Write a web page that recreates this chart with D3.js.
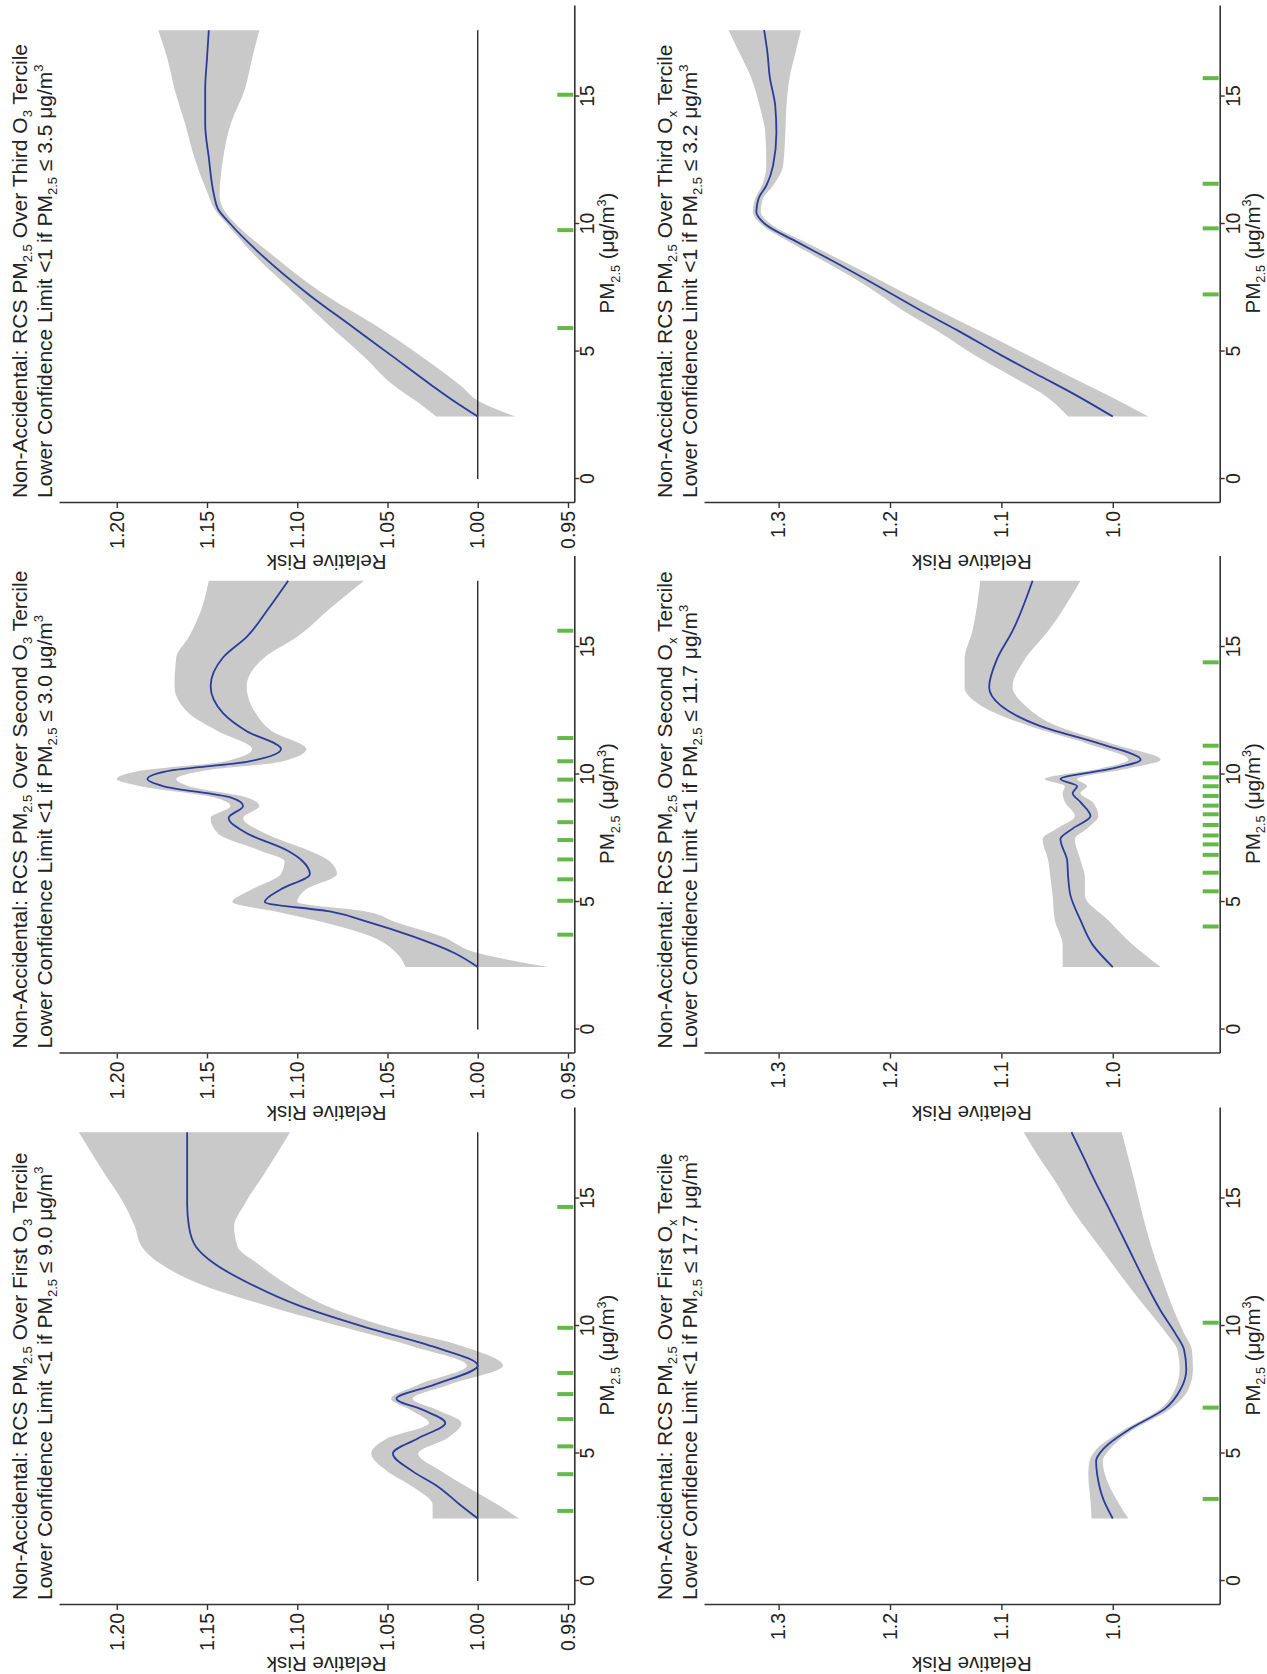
<!DOCTYPE html>
<html><head><meta charset="utf-8">
<script src="https://cdn.jsdelivr.net/npm/d3@7"></script>
<style>
body{margin:0;background:#fff}
svg{display:block}
text{font-family:"Liberation Sans",Arial,Helvetica,sans-serif;fill:#222;white-space:pre}
</style>
</head><body>
<svg id="chart" width="1267" height="1674"></svg>
<script>
// ---------------- DATA ----------------
const xTickValues = [0, 5, 10, 15];
const rrTicksO3 = [0.95, 1.00, 1.05, 1.10, 1.15, 1.20];
const rrTicksOx = [1.0, 1.1, 1.2, 1.3];
const rrDomainO3 = [0.9465, 1.232];
const rrDomainOx = [0.904, 1.367];
const pmDomain = [-0.94, 18.55];
const tercileNames = ["First", "Second", "Third"];
const o3Limits = ["9.0", "3.0", "3.5"];
const oxLimits = ["17.7", "11.7", "3.2"];

// O3 first tercile
const o3FirstPM = [2.45, 3.0, 3.7, 4.3, 5.0, 5.6, 6.2, 6.7, 7.15, 7.7, 8.45, 9.2, 9.95, 10.8, 11.65, 12.45, 13.1, 13.9, 14.8, 16.0, 17.6];
const o3FirstRR = [1.000, 1.010, 1.022, 1.036, 1.047, 1.033, 1.018, 1.030, 1.045, 1.024, 1.000, 1.025, 1.062, 1.099, 1.126, 1.146, 1.156, 1.160, 1.161, 1.161, 1.161];
const o3FirstHi = [1.025, 1.025, 1.036, 1.050, 1.059, 1.050, 1.027, 1.037, 1.048, 1.033, 1.006, 1.036, 1.074, 1.117, 1.154, 1.176, 1.186, 1.190, 1.196, 1.207, 1.221];
const o3FirstLo = [0.977, 0.989, 1.006, 1.020, 1.033, 1.017, 1.009, 1.022, 1.036, 1.016, 0.986, 1.008, 1.049, 1.084, 1.106, 1.122, 1.133, 1.135, 1.129, 1.118, 1.104];
const o3FirstKnots = [2.75, 4.19, 5.28, 6.35, 7.33, 8.16, 9.93, 14.67];

// O3 second tercile
const o3SecondPM = [2.45, 3.0, 3.65, 4.2, 4.63, 5.0, 5.5, 6.1, 6.6, 7.0, 7.7, 8.3, 8.77, 9.1, 9.54, 9.82, 10.17, 10.5, 11.0, 11.7, 12.4, 13.46, 14.6, 15.4, 16.5, 17.6];
const o3SecondRR = [1.000, 1.013, 1.036, 1.060, 1.082, 1.118, 1.109, 1.093, 1.097, 1.105, 1.128, 1.138, 1.130, 1.137, 1.174, 1.183, 1.169, 1.128, 1.109, 1.128, 1.141, 1.148, 1.141, 1.128, 1.116, 1.105];
const o3SecondHi = [1.040, 1.045, 1.059, 1.085, 1.112, 1.136, 1.125, 1.109, 1.107, 1.120, 1.144, 1.148, 1.137, 1.146, 1.187, 1.200, 1.185, 1.141, 1.125, 1.144, 1.160, 1.168, 1.167, 1.160, 1.153, 1.149];
const o3SecondLo = [0.961, 1.000, 1.020, 1.045, 1.062, 1.100, 1.095, 1.078, 1.082, 1.093, 1.118, 1.130, 1.121, 1.128, 1.160, 1.167, 1.150, 1.109, 1.095, 1.114, 1.123, 1.128, 1.118, 1.100, 1.082, 1.063];
const o3SecondKnots = [3.72, 5.05, 5.89, 6.67, 7.43, 8.13, 8.98, 9.8, 10.52, 11.43, 15.64];

// O3 third tercile
const o3ThirdPM = [2.45, 3.0, 3.7, 4.8, 6.0, 7.2, 8.8, 10.0, 10.6, 11.1, 12.6, 13.9, 15.3, 16.5, 17.6];
const o3ThirdRR = [1.000, 1.012, 1.026, 1.047, 1.070, 1.093, 1.120, 1.137, 1.144, 1.146, 1.149, 1.151, 1.151, 1.150, 1.149];
const o3ThirdHi = [1.023, 1.033, 1.047, 1.063, 1.082, 1.100, 1.124, 1.139, 1.146, 1.149, 1.157, 1.162, 1.168, 1.172, 1.177];
const o3ThirdLo = [0.979, 0.998, 1.010, 1.031, 1.056, 1.084, 1.114, 1.134, 1.141, 1.143, 1.141, 1.137, 1.129, 1.125, 1.121];
const o3ThirdKnots = [5.92, 9.76, 15.07];

// Ox first tercile
const oxFirstPM = [2.45, 3.15, 4.18, 4.7, 5.2, 5.98, 6.76, 7.53, 8.3, 9.07, 9.72, 10.6, 11.65, 13.06, 14.48, 15.77, 16.6, 17.6];
const oxFirstRR = [1.000, 1.008, 1.014, 1.015, 1.008, 0.984, 0.953, 0.939, 0.934, 0.936, 0.944, 0.957, 0.970, 0.986, 1.002, 1.017, 1.026, 1.037];
const oxFirstHi = [1.019, 1.020, 1.022, 1.021, 1.014, 0.988, 0.957, 0.944, 0.940, 0.942, 0.952, 0.968, 0.987, 1.011, 1.035, 1.053, 1.066, 1.080];
const oxFirstLo = [0.986, 0.996, 1.007, 1.009, 1.002, 0.980, 0.948, 0.932, 0.928, 0.929, 0.936, 0.945, 0.954, 0.965, 0.974, 0.981, 0.986, 0.992];
const oxFirstKnots = [3.22, 6.8, 10.13];

// Ox second tercile
const oxSecondPM = [2.45, 3.32, 4.29, 5.26, 5.95, 6.64, 7.47, 7.88, 8.37, 8.92, 9.27, 9.54, 9.82, 10.24, 10.58, 11.2, 11.9, 12.72, 13.42, 14.52, 15.63, 17.6];
const oxSecondRR = [1.000, 1.018, 1.029, 1.038, 1.040, 1.041, 1.047, 1.036, 1.020, 1.029, 1.036, 1.032, 1.047, 1.000, 0.975, 1.011, 1.065, 1.101, 1.111, 1.104, 1.090, 1.072];
const oxSecondHi = [1.045, 1.045, 1.052, 1.054, 1.056, 1.058, 1.063, 1.050, 1.034, 1.043, 1.045, 1.043, 1.061, 1.011, 0.986, 1.022, 1.075, 1.119, 1.133, 1.133, 1.126, 1.119];
const oxSecondLo = [0.957, 0.982, 1.004, 1.025, 1.025, 1.029, 1.034, 1.023, 1.013, 1.018, 1.029, 1.023, 1.032, 0.986, 0.957, 1.000, 1.050, 1.079, 1.090, 1.079, 1.058, 1.029];
const oxSecondKnots = [4.04, 5.42, 6.15, 6.85, 7.26, 7.61, 8.02, 8.44, 8.78, 9.16, 9.54, 9.89, 10.44, 11.13, 14.4];

// Ox third tercile
const oxThirdPM = [2.45, 3.36, 4.01, 4.85, 5.82, 6.6, 7.57, 8.54, 9.31, 9.96, 10.48, 11.0, 11.51, 12.29, 13.58, 14.62, 15.78, 16.7, 17.6];
const oxThirdRR = [1.000, 1.036, 1.064, 1.100, 1.139, 1.172, 1.211, 1.251, 1.284, 1.311, 1.320, 1.318, 1.311, 1.305, 1.302, 1.303, 1.308, 1.310, 1.313];
const oxThirdHi = [1.040, 1.064, 1.090, 1.124, 1.158, 1.188, 1.221, 1.259, 1.291, 1.315, 1.323, 1.321, 1.315, 1.311, 1.312, 1.317, 1.325, 1.335, 1.345];
const oxThirdLo = [0.968, 1.008, 1.038, 1.076, 1.120, 1.156, 1.199, 1.242, 1.277, 1.306, 1.316, 1.314, 1.305, 1.296, 1.294, 1.293, 1.290, 1.285, 1.280];
const oxThirdKnots = [7.24, 9.83, 11.58, 15.72];

// ---------------- PANELS ----------------
const panels = [
  {row:0,col:0,pol:"3",lim:o3Limits[0],pm:o3FirstPM,rr:o3FirstRR,hi:o3FirstHi,lo:o3FirstLo,knots:o3FirstKnots},
  {row:0,col:1,pol:"3",lim:o3Limits[1],pm:o3SecondPM,rr:o3SecondRR,hi:o3SecondHi,lo:o3SecondLo,knots:o3SecondKnots},
  {row:0,col:2,pol:"3",lim:o3Limits[2],pm:o3ThirdPM,rr:o3ThirdRR,hi:o3ThirdHi,lo:o3ThirdLo,knots:o3ThirdKnots},
  {row:1,col:0,pol:"x",lim:oxLimits[0],pm:oxFirstPM,rr:oxFirstRR,hi:oxFirstHi,lo:oxFirstLo,knots:oxFirstKnots},
  {row:1,col:1,pol:"x",lim:oxLimits[1],pm:oxSecondPM,rr:oxSecondRR,hi:oxSecondHi,lo:oxSecondLo,knots:oxSecondKnots},
  {row:1,col:2,pol:"x",lim:oxLimits[2],pm:oxThirdPM,rr:oxThirdRR,hi:oxThirdHi,lo:oxThirdLo,knots:oxThirdKnots}
];

// ---------------- LAYOUT (original, unrotated orientation: 1674 wide x 1267 tall) ----------------
const colX = [69, 620.5, 1171];
const yTitleOff = [51.5, 52, 52];
const rowTop = [59, 704];
const rowBottom = [574.3, 1219.7];
const titleBase = [26.7, 671.7];
const plotW = 497;
const FS_TICK = 19.5, FS_TITLE = 21, FS_AX = 20.5;

const svg = d3.select("#chart");
svg.append("rect").attr("width",1267).attr("height",1674).attr("fill","#fff");
const root = svg.append("g").attr("transform","translate(0,1674) rotate(-90)");

function rich(sel, parts, fs){
  let shift = 0;
  parts.forEach(([s, kind]) => {
    const target = kind === "sub" ? 0.26*fs : kind === "sup" ? -0.42*fs : 0;
    sel.append("tspan").attr("dy", target - shift).attr("font-size", kind ? fs*0.62 : fs).text(s);
    shift = target;
  });
}

panels.forEach((p) => {
  const isO3 = p.row === 0;
  const x0 = colX[p.col];
  const g = root.append("g").attr("transform", `translate(${x0},0)`);
  const x = d3.scaleLinear().domain(pmDomain).range([0, plotW]);
  const y = d3.scaleLinear().domain(isO3 ? rrDomainO3 : rrDomainOx).range([rowBottom[p.row], rowTop[p.row]]);
  const pts = p.pm.map((v, k) => ({pm: v, rr: p.rr[k], hi: p.hi[k], lo: p.lo[k]}));

  // confidence band
  g.append("path").datum(pts)
    .attr("d", d3.area().x(d => x(d.pm)).y0(d => y(d.lo)).y1(d => y(d.hi)).curve(d3.curveMonotoneX))
    .attr("fill", "#c9c9c9");

  // reference line at RR = 1 (O3 panels)
  if (isO3) {
    g.append("line")
      .attr("x1", x(0)).attr("x2", x(p.pm[p.pm.length-1]))
      .attr("y1", y(1)).attr("y2", y(1))
      .attr("stroke", "#1a1a1a").attr("stroke-width", 1.3);
  }

  // estimate
  g.append("path").datum(pts)
    .attr("d", d3.line().x(d => x(d.pm)).y(d => y(d.rr)).curve(d3.curveMonotoneX))
    .attr("fill", "none").attr("stroke", "#2b3b9b").attr("stroke-width", 1.8);

  // knots (green rug)
  g.selectAll("line.knot").data(p.knots).join("line").attr("class","knot")
    .attr("x1", d => x(d)).attr("x2", d => x(d))
    .attr("y1", rowBottom[p.row] - 17).attr("y2", rowBottom[p.row] - 1)
    .attr("stroke", "#62b946").attr("stroke-width", 4);

  // axes
  const yAxis = d3.axisLeft(y).tickValues(isO3 ? rrTicksO3 : rrTicksOx)
    .tickFormat(d3.format(isO3 ? ".2f" : ".1f")).tickSize(5).tickPadding(3).tickSizeOuter(0);
  const ya = g.append("g").call(yAxis);
  const xAxis = d3.axisBottom(x).tickValues(xTickValues).tickSize(5).tickPadding(1).tickSizeOuter(0);
  const xa = g.append("g").attr("transform", `translate(0,${rowBottom[p.row]})`).call(xAxis);
  [ya, xa].forEach(a => {
    a.select(".domain").attr("stroke", "#333").attr("stroke-width", 1.6);
    a.selectAll(".tick line").attr("stroke", "#333").attr("stroke-width", 1.4);
    a.selectAll(".tick text").attr("font-size", FS_TICK).attr("fill", "#222")
      .attr("font-family", '"Liberation Sans",Arial,sans-serif');
  });

  // y title
  const cy = (rowTop[p.row] + rowBottom[p.row]) / 2 + 10;
  g.append("text").attr("transform", `translate(${-yTitleOff[p.col]},${cy}) rotate(-90)`)
    .attr("text-anchor", "middle").attr("font-size", FS_AX).text("Relative Risk");

  // x title
  const xt = g.append("text").attr("x", 250).attr("y", rowBottom[p.row] + 40)
    .attr("text-anchor", "middle");
  rich(xt, [["PM"], ["2.5","sub"], [" (μg/m"], ["3","sup"], [")"]], FS_AX);

  // panel title
  const t1 = g.append("text").attr("x", 5).attr("y", titleBase[p.row]);
  rich(t1, [["Non-Accidental: RCS PM"], ["2.5","sub"], [" Over " + tercileNames[p.col] + " O"], [p.pol,"sub"], [" Tercile"]], FS_TITLE);
  const t2 = g.append("text").attr("x", 5).attr("y", titleBase[p.row] + 25);
  rich(t2, [["Lower Confidence Limit <1 if PM"], ["2.5","sub"], [" ≤ " + p.lim + " μg/m"], ["3","sup"]], FS_TITLE);
});
</script>
</body></html>
